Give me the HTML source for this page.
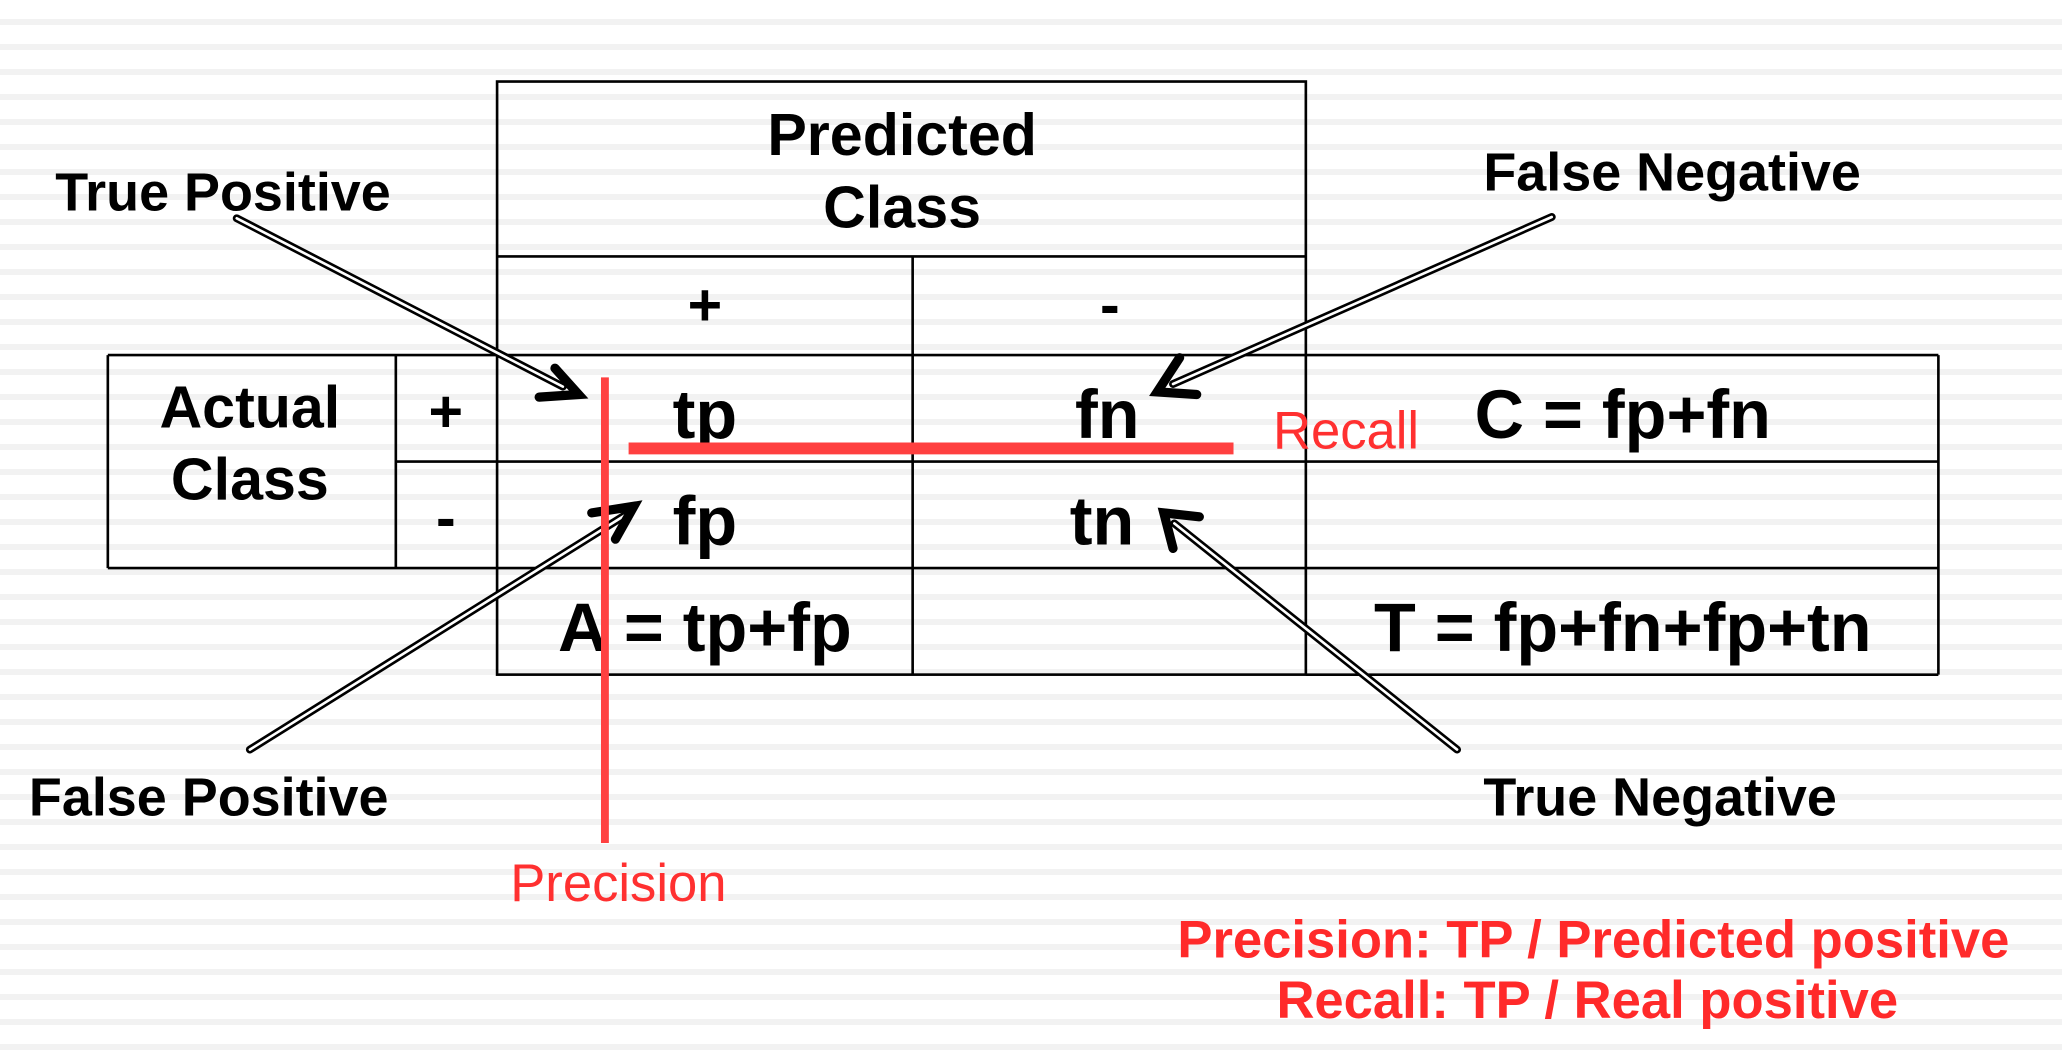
<!DOCTYPE html>
<html><head><meta charset="utf-8"><style>
html,body{margin:0;padding:0;width:2062px;height:1056px;overflow:hidden;background:#fff;}
#bg{position:absolute;left:0;top:0;width:2062px;height:1056px;background:repeating-linear-gradient(to bottom,#fff 0px,#fff 19px,#f2f2f2 19px,#f2f2f2 25px);}
svg{position:absolute;left:0;top:0;}
text{font-family:"Liberation Sans",Arial,sans-serif;}
.b{font-weight:bold;fill:#000;}
</style></head><body>
<div id="bg"></div>
<svg width="2062" height="1056" viewBox="0 0 1568 803" preserveAspectRatio="none">
<g stroke="#000" stroke-width="2" fill="none">
<rect x="378" y="62" width="615" height="451"/>
<line x1="378" y1="195" x2="993" y2="195"/>
<line x1="378" y1="270" x2="1474" y2="270"/>
<line x1="82" y1="270" x2="378" y2="270"/>
<line x1="82" y1="270" x2="82" y2="432"/>
<line x1="301" y1="270" x2="301" y2="432"/>
<line x1="82" y1="432" x2="1474" y2="432"/>
<line x1="301" y1="351" x2="1474" y2="351"/>
<line x1="694" y1="195" x2="694" y2="513"/>
<line x1="1474" y1="270" x2="1474" y2="513"/>
<line x1="993" y1="513" x2="1474" y2="513"/>
</g>
<g text-anchor="middle" font-size="45">
<text class="b" x="686" y="118">Predicted</text>
<text class="b" x="686" y="173">Class</text>
<text class="b" x="536" y="247">+</text>
<text class="b" x="844" y="247">-</text>
<text class="b" x="190" y="325">Actual</text>
<text class="b" x="190" y="380">Class</text>
<text class="b" x="339" y="328">+</text>
<text class="b" x="339" y="409">-</text>
<g font-size="52">
<text class="b" x="536" y="333">tp</text>
<text class="b" x="842" y="333">fn</text>
<text class="b" x="536" y="414">fp</text>
<text class="b" x="838" y="414">tn</text>
<text class="b" x="1234" y="333">C = fp+fn</text>
<text class="b" x="536" y="495">A = tp+fp</text>
<text class="b" x="1234" y="495">T = fp+fn+fp+tn</text>
</g>
</g>
<g fill="none" stroke-linecap="round">
<g>
<line x1="180" y1="166" x2="428" y2="294" stroke="#000" stroke-width="6"/>
<line x1="180" y1="166" x2="428" y2="294" stroke="#fff" stroke-width="2"/>
<polyline points="422,280 440,300 410,302" stroke="#000" stroke-width="7"/>
</g>
<g>
<line x1="1180" y1="165" x2="892" y2="292" stroke="#000" stroke-width="6"/>
<line x1="1180" y1="165" x2="892" y2="292" stroke="#fff" stroke-width="2"/>
<polyline points="897,272 880,298 910,300" stroke="#000" stroke-width="7"/>
</g>
<g>
<line x1="190" y1="570" x2="475" y2="392" stroke="#000" stroke-width="6"/>
<line x1="190" y1="570" x2="475" y2="392" stroke="#fff" stroke-width="2"/>
<polyline points="450,390 482,385 468,410" stroke="#000" stroke-width="7"/>
</g>
<g>
<line x1="1108" y1="570" x2="893" y2="398" stroke="#000" stroke-width="6"/>
<line x1="1108" y1="570" x2="893" y2="398" stroke="#fff" stroke-width="2"/>
<polyline points="912,393 885,390 892,417" stroke="#000" stroke-width="7"/>
</g>
</g>
<g font-size="41">
<text class="b" x="42" y="160">True Positive</text>
<text class="b" x="1128" y="145">False Negative</text>
<text class="b" x="22" y="620">False Positive</text>
<text class="b" x="1128" y="620">True Negative</text>
</g>
<g>
<line x1="460" y1="287" x2="460" y2="641" stroke="#ff4040" stroke-width="6"/>
<line x1="478" y1="341" x2="938" y2="341" stroke="#ff4040" stroke-width="9"/>
<text x="968" y="341" font-size="40" fill="#ff3030">Recall</text>
<text x="388" y="685" font-size="40" fill="#ff3030">Precision</text>
<text x="1528" y="728" font-size="40" font-weight="bold" fill="#ff2a2a" text-anchor="end">Precision: TP / Predicted positive</text>
<text x="1207" y="774" font-size="40" font-weight="bold" fill="#ff2a2a" text-anchor="middle">Recall: TP / Real positive</text>
</g>
</svg>
</body></html>
